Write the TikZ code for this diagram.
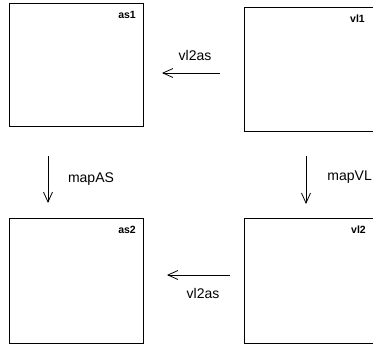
\documentclass[tikz,border=0pt]{standalone}
\usepackage{fontspec}
\setmainfont{Liberation Sans}
\usetikzlibrary{arrows.meta}
\begin{document}
\begin{tikzpicture}[x=1pt,y=-1pt,
  panel/.style={draw=black, line width=0.9pt, minimum width=134pt, inner sep=0pt, anchor=north west},
  tag/.style={font=\fontsize{10.5}{12}\selectfont\bfseries, anchor=north east, inner sep=0pt},
  maparrow/.style={-{Straight Barb[length=10pt,width=9pt,line width=0.8pt]}, line width=0.8pt},
  caption/.style={font=\fontsize{14}{16}\selectfont, inner sep=0pt}]
\useasboundingbox (0,0) rectangle (373,346);
\clip (0,0) rectangle (373,346);

% the four panels
\node[panel, minimum height=123pt] (as1) at (9,3) {};
\node[panel, minimum height=124pt] (vl1) at (244,7) {};
\node[panel, minimum height=125pt] (as2) at (9,218) {};
\node[panel, minimum height=125pt] (vl2) at (244,218) {};

% panel titles
\node[tag] (as1t) at (136,11) {as1};
\node[tag] (vl1t) at (365,15) {vl1};
\node[tag] (as2t) at (136,226) {as2};
\node[tag] (vl2t) at (366,226) {vl2};

% free-standing arrows
\coordinate (topS) at (220,73);  \coordinate (topE) at (162,73);
\coordinate (botS) at (230,275); \coordinate (botE) at (167,275);
\coordinate (lftS) at (48,156);  \coordinate (lftE) at (48,203);
\coordinate (rgtS) at (306,156); \coordinate (rgtE) at (306,204);
\draw[maparrow] (topS) -- (topE);
\draw[maparrow] (botS) -- (botE);
\draw[maparrow] (lftS) -- (lftE);
\draw[maparrow] (rgtS) -- (rgtE);

% arrow captions
\node[caption] (capTop) at (195,55) {vl2as};
\node[caption] (capBot) at (203,293) {vl2as};
\node[caption] (capL) at (91,179) {mapAS};
\node[caption, anchor=east] (capR) at (372,177) {mapVL};
\end{tikzpicture}
\end{document}
